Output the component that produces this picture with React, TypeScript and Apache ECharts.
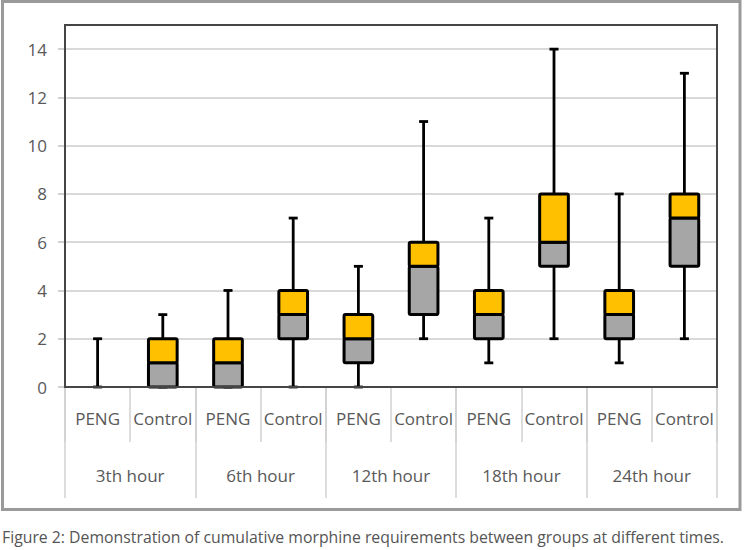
import React, { useEffect, useRef } from "react";
import * as echarts from "echarts";

const groups = ["PENG", "Control", "PENG", "Control", "PENG", "Control", "PENG", "Control", "PENG", "Control"];
const hours = ["3th hour", "6th hour", "12th hour", "18th hour", "24th hour"];
const minVals = [0, 0, 0, 0, 0, 2, 1, 2, 1, 2];
const q1Vals = [0, 0, 0, 2, 1, 3, 2, 5, 2, 5];
const medianVals = [0, 1, 1, 3, 2, 5, 3, 6, 3, 7];
const q3Vals = [0, 2, 2, 4, 3, 6, 4, 8, 4, 8];
const maxVals = [2, 3, 4, 7, 5, 11, 7, 14, 8, 13];
const yTicks = [0, 2, 4, 6, 8, 10, 12, 14];
const caption = "Figure 2: Demonstration of cumulative morphine requirements between groups at different times.";

const FONT = "'Open Sans', 'Noto Sans', sans-serif";
const LABEL_COLOR = "#595959";

export default function App() {
  const ref = useRef<HTMLDivElement>(null);
  useEffect(() => {
    document.body.style.margin = "0";
    const chart = echarts.init(ref.current!, null, { renderer: "svg" });
    const data = groups.map((_, i) => [i, minVals[i], q1Vals[i], medianVals[i], q3Vals[i], maxVals[i]]);
    chart.setOption({
      animation: false,
      grid: {
        left: 65,
        right: 27,
        top: 25,
        bottom: 163,
        show: false,
      },
      xAxis: [
        {
          type: "category",
          data: groups,
          position: "bottom",
          boundaryGap: true,
          axisLine: { show: true, lineStyle: { color: "#333333", width: 2 } },
          axisTick: { show: true, length: 55, alignWithLabel: false, lineStyle: { color: "#d0d0d0", width: 1.5 } },
          axisLabel: { color: LABEL_COLOR, fontSize: 17, fontFamily: FONT, margin: 23, interval: 0 },
          splitLine: { show: false },
        },
        {
          type: "category",
          data: hours,
          position: "bottom",
          boundaryGap: true,
          axisLine: { show: false },
          axisTick: { show: true, length: 111, lineStyle: { color: "#d0d0d0", width: 1.5 } },
          axisLabel: { color: LABEL_COLOR, fontSize: 17, fontFamily: FONT, margin: 80, interval: 0 },
          splitLine: { show: false },
        },
      ],
      yAxis: {
        type: "value",
        min: 0,
        max: 15,
        interval: 2,
        axisLine: { show: true, lineStyle: { color: "#4d4d4d", width: 2 } },
        axisTick: { show: true, length: 7, lineStyle: { color: "#c0c0c0", width: 1.5 } },
        axisLabel: {
          color: LABEL_COLOR,
          fontSize: 17,
          fontFamily: FONT,
          margin: 18,
          showMaxLabel: false,
          formatter: (v: number) => (yTicks.includes(v) ? String(v) : ""),
        },
        splitLine: { show: true, showMaxLine: false, showMinLine: false, lineStyle: { color: "#d9d9d9", width: 2 } },
      },
      series: [
        {
          type: "custom",
          xAxisIndex: 0,
          yAxisIndex: 0,
          data,
          z: 5,
          renderItem: (params: any, api: any) => {
            const x = api.value(0);
            const pMin = api.coord([x, api.value(1)]);
            const pQ1 = api.coord([x, api.value(2)]);
            const pMed = api.coord([x, api.value(3)]);
            const pQ3 = api.coord([x, api.value(4)]);
            const pMax = api.coord([x, api.value(5)]);
            const bw = api.size([1, 0])[0] * 0.44;
            const cx = pMin[0];
            const capW = 9;
            const lw = 2.8;
            const boxLw = 3;
            const children: any[] = [
              {
                type: "line",
                shape: { x1: cx, y1: pMin[1], x2: cx, y2: pMax[1] },
                style: { stroke: "#000", lineWidth: lw },
              },
              {
                type: "line",
                shape: { x1: cx - capW / 2, y1: pMax[1], x2: cx + capW / 2, y2: pMax[1] },
                style: { stroke: "#000", lineWidth: lw },
              },
              {
                type: "line",
                shape: { x1: cx - capW / 2, y1: pMin[1], x2: cx + capW / 2, y2: pMin[1] },
                style: { stroke: "#000", lineWidth: lw },
              },
            ];
            if (pQ1[1] - pMed[1] > 0.5) {
              children.push({
                type: "rect",
                shape: { x: cx - bw / 2, y: pMed[1], width: bw, height: pQ1[1] - pMed[1], r: 1.5 },
                style: { fill: "#a6a6a6", stroke: "#000", lineWidth: boxLw },
              });
            }
            if (pMed[1] - pQ3[1] > 0.5) {
              children.push({
                type: "rect",
                shape: { x: cx - bw / 2, y: pQ3[1], width: bw, height: pMed[1] - pQ3[1], r: 1.5 },
                style: { fill: "#ffc000", stroke: "#000", lineWidth: boxLw },
              });
            }
            return { type: "group", children };
          },
        },
      ],
      graphic: [
        {
          type: "rect",
          z: -10,
          shape: { x: 2.5, y: 1.5, width: 737.5, height: 508 },
          style: { fill: "none", stroke: "#9a9a9a", lineWidth: 3 },
        },
        {
          type: "rect",
          z: 10,
          silent: true,
          shape: { x: 65, y: 25, width: 652, height: 362 },
          style: { fill: "none", stroke: "#454545", lineWidth: 2 },
        },
        {
          type: "text",
          x: 2,
          y: 537,
          style: {
            text: caption,
            font: `15.8px ${FONT}`,
            fill: "#555555",
            verticalAlign: "middle",
          },
        },
      ],
    });
    return () => chart.dispose();
  }, []);
  return <div ref={ref} style={{ position: "absolute", left: 0, top: 0, width: 744, height: 550 }} />;
}
